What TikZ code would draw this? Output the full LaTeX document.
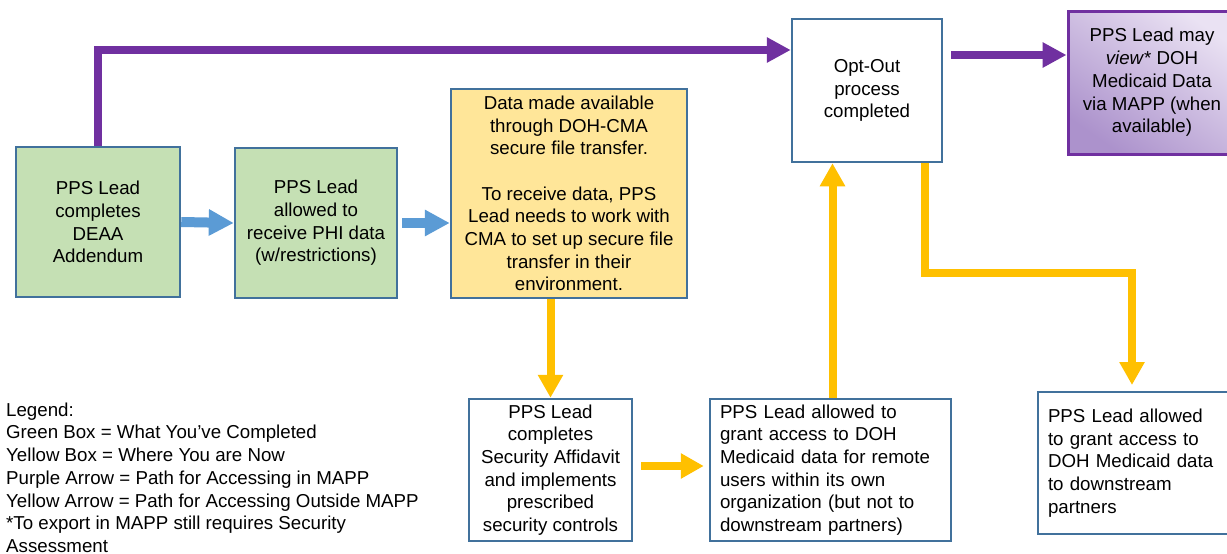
\documentclass[tikz,border=0pt]{standalone}
\usepackage{fontspec}
\setmainfont{Liberation Sans}
\usetikzlibrary{arrows.meta,calc}
\definecolor{boxblue}{HTML}{41719C}
\definecolor{gfill}{HTML}{C5E0B4}
\definecolor{yfill}{HTML}{FFE699}
\definecolor{arrblue}{HTML}{5B9BD5}
\definecolor{arryel}{HTML}{FFC000}
\definecolor{arrpur}{HTML}{7030A0}
\definecolor{pdark}{RGB}{172,146,204}
\definecolor{plight}{RGB}{234,226,243}
\begin{document}
\begin{tikzpicture}[x=1pt,y=-1pt,
  every node/.style={font=\fontsize{18.7}{22.7}\selectfont, text=black},
  box/.style={draw=boxblue, line width=2.5pt, inner sep=0pt, align=center, fill=white},
  greenbox/.style={box, fill=gfill},
  yellowbox/.style={box, fill=yfill},
  purplebox/.style={draw=arrpur, line width=3pt, inner sep=0pt, align=center,
     shading=axis, bottom color=pdark, top color=plight, shading angle=-35},
  leftbox/.style={box, align=left, inner xsep=10pt, inner ysep=0pt},
  bluearrow/.style={draw=arrblue, line width=10pt, -{Triangle[width=25pt,length=25pt]}},
  yelarrow/.style={draw=arryel, line width=8pt, -{Triangle[width=24pt,length=23pt]}},
  purarrow/.style={draw=arrpur, line width=8pt, -{Triangle[width=24pt,length=24pt]}},
  legendtext/.style={anchor=north west, align=left, inner sep=0pt}
]
\clip[use as bounding box] (0,0) rectangle (1227,554);
\fill[white] (0,0) rectangle (1227,554);

\node[greenbox, minimum width=164pt, minimum height=150pt] (A) at (98,222)
  {PPS Lead\\completes\\DEAA\\Addendum};
\node[greenbox, minimum width=162pt, minimum height=150pt] (B) at (316,223)
  {PPS Lead\\allowed to\\receive PHI data\\(w/restrictions)};
\node[yellowbox, minimum width=236pt, minimum height=209pt] (C) at (569,193.5)
  {Data made available\\through DOH-CMA\\secure file transfer.\\[22.7pt]To receive data, PPS\\Lead needs to work with\\CMA to set up secure file\\transfer in their\\environment.};
\node[box, minimum width=150pt, minimum height=143pt] (D) at (867,90.5)
  {Opt-Out\\process\\completed};
\node[purplebox, minimum width=168pt, minimum height=143pt] (E) at (1152,82.5)
  {PPS Lead may\\\textit{view}* DOH\\Medicaid Data\\via MAPP (when\\available)};
\node[box, minimum width=163pt, minimum height=142pt] (F) at (550.5,470)
  {PPS Lead\\completes\\Security Affidavit\\and implements\\prescribed\\security controls};
\node[leftbox, text width=221pt, minimum height=142pt] (G) at (830.5,470)
  {PPS Lead allowed to\\grant access to DOH\\Medicaid data for remote\\users within its own\\organization (but not to\\downstream partners)};
\node[leftbox, text width=182pt, minimum height=142pt] (H) at (1139,463)
  {PPS Lead allowed\\to grant access to\\DOH Medicaid data\\to downstream\\partners};

\node[legendtext] (L) at (6,402.5)
  {Legend:\\Green Box = What You’ve Completed\\Yellow Box = Where You are Now\\Purple Arrow = Path for Accessing in MAPP\\Yellow Arrow = Path for Accessing Outside MAPP\\*To export in MAPP still requires Security\\Assessment};

% blue arrows
\draw[bluearrow] (A.east) -- (B.west);
\draw[bluearrow] ([xshift=4pt]B.east) -- (C.west |- B.east);

% purple arrows
\coordinate (ptop) at (0,50);
\coordinate (pmid) at (0,55);
\draw[purarrow] (A.north) |- (D.west |- ptop);
\draw[purarrow] ($(D.east |- pmid)+(8,0)$) -- (E.west |- pmid);

% yellow arrows
\draw[yelarrow] (C.south -| F.north) -- (F.north);
\draw[yelarrow] ([xshift=8pt,yshift=4pt]F.east) -- ([xshift=-5pt,yshift=4pt]G.west);
\draw[yelarrow] ([xshift=2pt]G.north) -- ([xshift=2pt]G.north |- D.south);
\coordinate (ds) at ([xshift=-18pt]D.south east);
\coordinate (hturn) at (0,273);
\coordinate (htip) at (1132,385);
\draw[yelarrow] (ds) |- (htip |- hturn) -- (htip);
\end{tikzpicture}
\end{document}
